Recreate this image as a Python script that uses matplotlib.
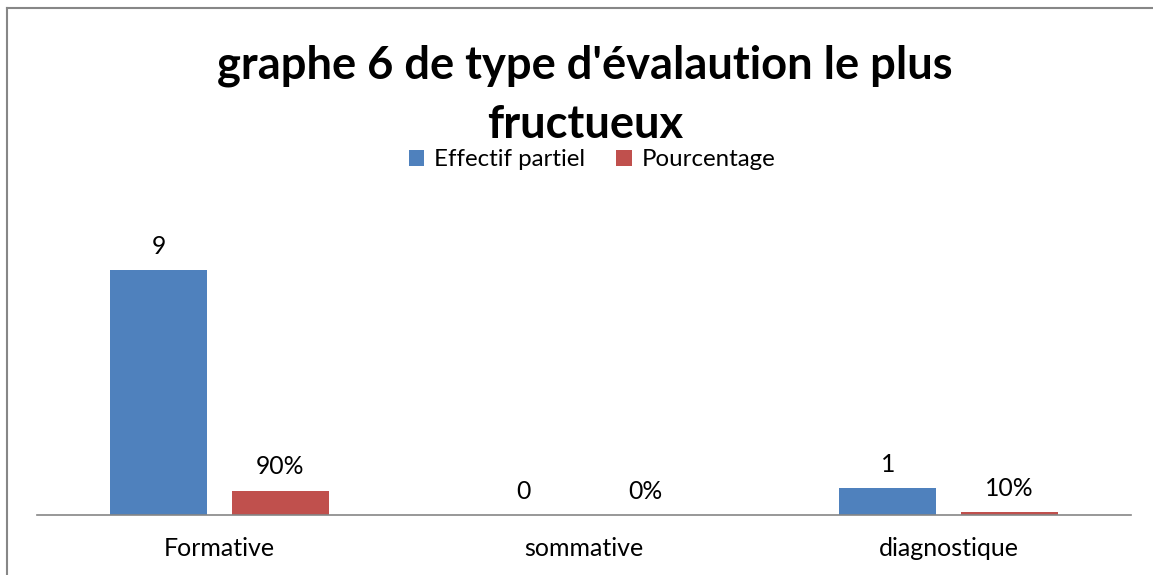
import matplotlib
matplotlib.use("Agg")
import matplotlib.pyplot as plt
import numpy as np

categories = ["Formative", "sommative", "diagnostique"]
effectif = [9, 0, 1]
pourcentage = [0.9, 0.0, 0.1]
effectif_labels = ["9", "0", "1"]
pourcentage_labels = ["90%", "0%", "10%"]
series_names = ["Effectif partiel", "Pourcentage"]
title = "graphe 6 de type d'évalaution le plus\nfructueux"

W, H = 1153, 575
fig = plt.figure(figsize=(W / 100, H / 100), dpi=100)
plt.rcParams['font.family'] = ['Lato', 'DejaVu Sans']

blue = "#4F81BD"
red = "#C0504D"

# outer border (left and top visible)
fig.add_artist(plt.Line2D([7 / W, 7 / W], [0, 1 - 8 / H], color="#878787", lw=1.5))
fig.add_artist(plt.Line2D([7 / W, 1], [1 - 8 / H, 1 - 8 / H], color="#878787", lw=1.5))

ax_left, ax_right = 37, 1131
base, top = 515, 243
ax = fig.add_axes([ax_left / W, (H - base) / H, (ax_right - ax_left) / W, (base - top) / H])
ax.set_xlim(-0.5, 2.5)
ax.set_ylim(0, 10)

x = np.arange(len(categories))
bw = 0.266
off = 0.167
b1 = ax.bar(x - off, effectif, bw, color=blue, label=series_names[0])
b2 = ax.bar(x + off, pourcentage, bw, color=red, label=series_names[1])

for xi, v, t in zip(x, effectif, effectif_labels):
    ax.annotate(t, (xi - off, v), xytext=(0, 17), textcoords="offset points",
                ha="center", va="center", fontsize=17.8)
for xi, v, t in zip(x, pourcentage, pourcentage_labels):
    ax.annotate(t, (xi + off, v), xytext=(0, 17), textcoords="offset points",
                ha="center", va="center", fontsize=17.8)

for s in ["top", "right", "left"]:
    ax.spines[s].set_visible(False)
ax.spines["bottom"].set_color("#868686")
ax.spines["bottom"].set_linewidth(1.2)
ax.set_yticks([])
ax.set_xticks(x)
ax.set_xticklabels(categories, fontsize=18)
ax.tick_params(axis="x", length=0, pad=16)

fig.text(585 / W, 1 - 95 / H, title, ha="center", va="center", fontsize=32.6,
         fontweight="bold", linespacing=1.5)

fig.legend(handles=[b1, b2], loc="center", bbox_to_anchor=(592 / W, 1 - 160 / H),
           ncol=2, frameon=False, fontsize=17.3, handlelength=0.65, handleheight=0.65,
           handletextpad=0.4, columnspacing=1.3)

fig.savefig("out.png", dpi=100)
